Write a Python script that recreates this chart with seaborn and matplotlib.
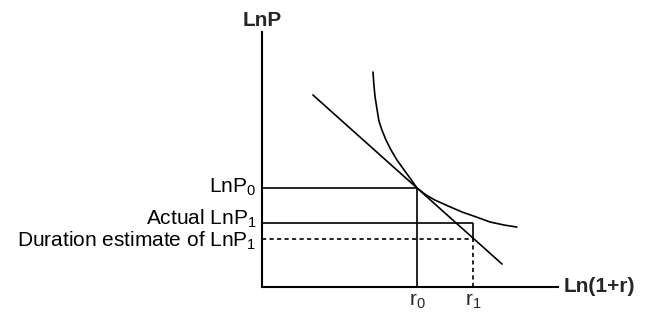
import matplotlib
matplotlib.use("Agg")
import matplotlib.pyplot as plt
import pandas as pd
import seaborn as sns

# price-yield curve (x = Ln(1+r), y = LnP, arbitrary units)
curve_x = [3.75, 3.78, 3.82, 3.89, 3.95, 4.05, 4.19, 4.36, 4.56, 4.80, 5.00,
           5.24, 5.54, 5.84, 6.28, 6.76, 7.23, 7.70, 8.18, 8.61]
curve_y = [8.43, 7.92, 7.45, 6.94, 6.51, 6.16, 5.76, 5.37, 4.98, 4.59, 4.27,
           3.88, 3.61, 3.41, 3.18, 2.94, 2.75, 2.55, 2.43, 2.35]

# duration (tangent) line end points
tangent_x = [1.72, 8.11]
tangent_y = [7.53, 0.90]

r0, r1 = 5.24, 7.13
lnp0 = 3.88
lnp1_actual = 2.51
lnp1_duration = 1.88

sns.set_theme(style="white")
plt.rcParams["font.family"] = ["Liberation Sans", "DejaVu Sans"]
plt.rcParams["mathtext.fontset"] = "custom"
plt.rcParams["mathtext.rm"] = "Liberation Sans"
plt.rcParams["mathtext.default"] = "regular"

fig = plt.figure(figsize=(6.51, 3.14), dpi=100)
ax = fig.add_axes([262 / 651, 27 / 314, 296 / 651, 255 / 314])

curve = pd.DataFrame({"x": curve_x, "y": curve_y})
tangent = pd.DataFrame({"x": tangent_x, "y": tangent_y})
sns.lineplot(data=curve, x="x", y="y", sort=False, color="black", lw=1.2,
             solid_joinstyle="round", ax=ax)
sns.lineplot(data=tangent, x="x", y="y", sort=False, color="black", lw=1.2, ax=ax)

dash = (0, (2.5, 2))
ax.hlines(lnp0, 0, r0, color="black", lw=1.2)
ax.vlines(r0, 0, lnp0, color="black", lw=1.2)
ax.hlines(lnp1_actual, 0, r1, color="black", lw=1.2)
ax.vlines(r1, lnp1_duration, lnp1_actual, color="black", lw=1.2)
ax.hlines(lnp1_duration, 0, r1, color="black", lw=1.2, linestyles=dash)
ax.vlines(r1, 0, lnp1_duration, color="black", lw=1.2, linestyles=dash)

ax.set_xlim(0, 10)
ax.set_ylim(0, 10)
ax.set_xticks([])
ax.set_yticks([])
ax.set_xlabel("")
ax.set_ylabel("")
for side in ["top", "right"]:
    ax.spines[side].set_visible(False)
for side in ["left", "bottom"]:
    ax.spines[side].set_color("black")
    ax.spines[side].set_linewidth(1.5)

lab = dict(fontsize=15, color="black", ha="right", va="baseline", clip_on=False)
ax.text(-0.2, lnp0 - 0.2, "LnP$_0$", **lab)
ax.text(-0.2, lnp1_actual - 0.08, "Actual LnP$_1$", **lab)
ax.text(-0.2, lnp1_duration - 0.31, "Duration estimate of LnP$_1$", **lab)

ax.text(0, 10.45, "LnP", fontsize=15, fontweight="bold", ha="center", va="center")
ax.text(10.2, 0, "Ln(1+r)", fontsize=15, fontweight="bold", ha="left", va="center")
ax.text(r0, -0.2, "r$_0$", fontsize=15, ha="center", va="top")
ax.text(r1, -0.2, "r$_1$", fontsize=15, ha="center", va="top")

fig.savefig("out.png", dpi=100)
